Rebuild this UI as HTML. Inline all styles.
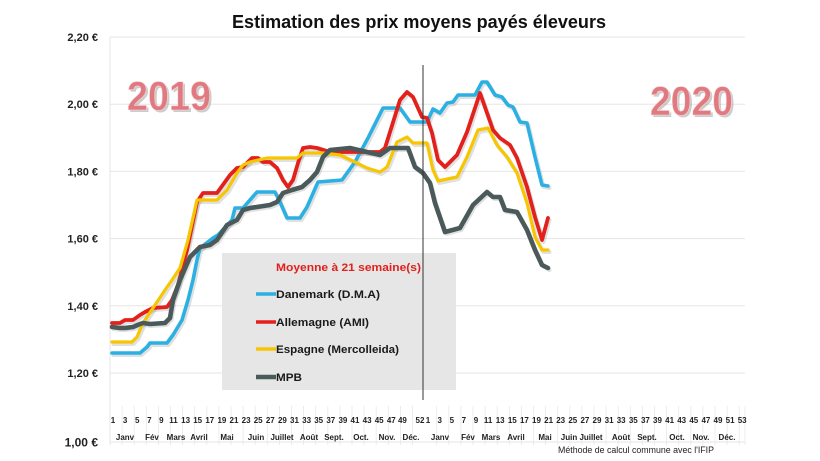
<!DOCTYPE html>
<html>
<head>
<meta charset="utf-8">
<style>
html,body{margin:0;padding:0;background:#fff;}
svg{display:block;}
text{font-family:"Liberation Sans",sans-serif;}
</style>
</head>
<body>
<svg width="820" height="461" viewBox="0 0 820 461" xmlns="http://www.w3.org/2000/svg">
<rect width="820" height="461" fill="#fff"/>

<!-- Title -->
<text x="419" y="28" text-anchor="middle" font-size="18" font-weight="bold" fill="#111" textLength="374" lengthAdjust="spacingAndGlyphs">Estimation des prix moyens payés éleveurs</text>

<!-- gridlines -->
<g stroke="#e6e6e6" stroke-width="1">
<line x1="110" y1="37" x2="745" y2="37"/>
<line x1="110" y1="104.2" x2="745" y2="104.2"/>
<line x1="110" y1="171.4" x2="745" y2="171.4"/>
<line x1="110" y1="238.6" x2="745" y2="238.6"/>
<line x1="110" y1="305.8" x2="745" y2="305.8"/>
<line x1="110" y1="373" x2="745" y2="373"/>
<line x1="110" y1="442" x2="745" y2="442"/>
<line x1="110" y1="37" x2="110" y2="445"/>
</g>

<!-- axis separators -->
<g stroke="#e8e8e8" stroke-width="0.8">
<line x1="122.1" y1="406" x2="122.1" y2="445"/><line x1="134.2" y1="406" x2="134.2" y2="445"/><line x1="146.3" y1="406" x2="146.3" y2="445"/><line x1="158.4" y1="406" x2="158.4" y2="445"/><line x1="170.5" y1="406" x2="170.5" y2="445"/><line x1="182.6" y1="406" x2="182.6" y2="445"/><line x1="194.7" y1="406" x2="194.7" y2="445"/><line x1="206.8" y1="406" x2="206.8" y2="445"/><line x1="218.9" y1="406" x2="218.9" y2="445"/><line x1="231" y1="406" x2="231" y2="445"/><line x1="243.1" y1="406" x2="243.1" y2="445"/><line x1="255.2" y1="406" x2="255.2" y2="445"/><line x1="267.3" y1="406" x2="267.3" y2="445"/><line x1="279.4" y1="406" x2="279.4" y2="445"/><line x1="291.5" y1="406" x2="291.5" y2="445"/><line x1="303.6" y1="406" x2="303.6" y2="445"/><line x1="315.7" y1="406" x2="315.7" y2="445"/><line x1="327.8" y1="406" x2="327.8" y2="445"/><line x1="339.9" y1="406" x2="339.9" y2="445"/><line x1="352" y1="406" x2="352" y2="445"/><line x1="364.1" y1="406" x2="364.1" y2="445"/><line x1="376.2" y1="406" x2="376.2" y2="445"/><line x1="388.3" y1="406" x2="388.3" y2="445"/><line x1="400.4" y1="406" x2="400.4" y2="445"/><line x1="412.5" y1="406" x2="412.5" y2="445"/><line x1="436.7" y1="406" x2="436.7" y2="445"/><line x1="448.8" y1="406" x2="448.8" y2="445"/><line x1="460.9" y1="406" x2="460.9" y2="445"/><line x1="473" y1="406" x2="473" y2="445"/><line x1="485.1" y1="406" x2="485.1" y2="445"/><line x1="497.2" y1="406" x2="497.2" y2="445"/><line x1="509.3" y1="406" x2="509.3" y2="445"/><line x1="521.4" y1="406" x2="521.4" y2="445"/><line x1="533.5" y1="406" x2="533.5" y2="445"/><line x1="545.6" y1="406" x2="545.6" y2="445"/><line x1="557.7" y1="406" x2="557.7" y2="445"/><line x1="569.8" y1="406" x2="569.8" y2="445"/><line x1="581.9" y1="406" x2="581.9" y2="445"/><line x1="594" y1="406" x2="594" y2="445"/><line x1="606.1" y1="406" x2="606.1" y2="445"/><line x1="618.2" y1="406" x2="618.2" y2="445"/><line x1="630.3" y1="406" x2="630.3" y2="445"/><line x1="642.4" y1="406" x2="642.4" y2="445"/><line x1="654.5" y1="406" x2="654.5" y2="445"/><line x1="666.6" y1="406" x2="666.6" y2="445"/><line x1="678.7" y1="406" x2="678.7" y2="445"/><line x1="690.8" y1="406" x2="690.8" y2="445"/><line x1="702.9" y1="406" x2="702.9" y2="445"/><line x1="715" y1="406" x2="715" y2="445"/><line x1="727.1" y1="406" x2="727.1" y2="445"/><line x1="739.2" y1="406" x2="739.2" y2="445"/><line x1="745" y1="406" x2="745" y2="445"/>
</g>

<!-- Y labels -->
<g font-size="11" font-weight="bold" fill="#222" text-anchor="end">
<text x="98" y="41">2,20 €</text>
<text x="98" y="108">2,00 €</text>
<text x="98" y="175.5">1,80 €</text>
<text x="98" y="242.5">1,60 €</text>
<text x="98" y="310">1,40 €</text>
<text x="98" y="377">1,20 €</text>
<text x="98" y="446.5" font-size="12">1,00 €</text>
</g>

<!-- legend box -->
<rect x="222" y="253" width="234" height="137" fill="#e7e6e6"/>
<text x="276" y="271" font-size="11" font-weight="bold" fill="#e0201c" textLength="145" lengthAdjust="spacingAndGlyphs">Moyenne à  21 semaine(s)</text>
<g stroke-width="3.5">
<line x1="256" y1="294" x2="276" y2="294" stroke="#2bb0e3"/>
<line x1="256" y1="322" x2="276" y2="322" stroke="#e3201b"/>
<line x1="256" y1="349" x2="276" y2="349" stroke="#f7c600"/>
<line x1="256" y1="377" x2="276" y2="377" stroke="#4a5a5a" stroke-width="4.5"/>
</g>
<g font-size="11" font-weight="bold" fill="#1a1a1a">
<text x="276" y="298" textLength="104" lengthAdjust="spacingAndGlyphs">Danemark (D.M.A)</text>
<text x="276" y="326" textLength="93" lengthAdjust="spacingAndGlyphs">Allemagne (AMI)</text>
<text x="276" y="353" textLength="123" lengthAdjust="spacingAndGlyphs">Espagne (Mercolleida)</text>
<text x="276" y="381" textLength="26" lengthAdjust="spacingAndGlyphs">MPB</text>
</g>

<!-- year labels -->
<g font-size="41" font-weight="bold">
<text x="129" y="112" fill="#9a9a9a" opacity="0.5" textLength="84" lengthAdjust="spacingAndGlyphs">2019</text>
<text x="127" y="110" fill="#e07a80" stroke="#f6d6d8" stroke-width="0.6" textLength="84" lengthAdjust="spacingAndGlyphs">2019</text>
<text x="652" y="117" fill="#9a9a9a" opacity="0.5" textLength="83" lengthAdjust="spacingAndGlyphs">2020</text>
<text x="650" y="115" fill="#e07a80" stroke="#f6d6d8" stroke-width="0.6" textLength="83" lengthAdjust="spacingAndGlyphs">2020</text>
</g>

<!-- series shadows -->
<g fill="none" stroke="#000" stroke-opacity="0.12" stroke-width="4" stroke-linejoin="round" stroke-linecap="round" transform="translate(1.5,2)">
<polyline points="112,353 140,353 147,347 150,343 167,343 173,335 182,320 188,300 193,280 197,260 200,248 213,238 218,235 232,220 235,208 243,208 257,192 275,192 280,202 287,218 300,218 307,207 318,182 342,180 355,162 368,138 383,108 400,108 410,122 427,122 433,109 440,113 447,103 453,102 458,95 475,95 482,82 487,82 495,95 502,97 508,105 513,107 520,122 527,123 535,157 542,185 548,186"/>
<polyline points="112,323 120,323 125,320 133,320 140,315 145,312 153,308 167,307 172,300 178,285 187,250 197,202 203,193 217,193 230,175 237,168 243,167 252,158 258,158 263,162 270,162 277,168 283,180 288,187 293,180 298,163 303,148 310,147 317,148 330,152 350,152 380,152 385,148 400,100 407,92 413,97 422,117 427,118 432,133 438,160 445,167 452,160 457,155 467,132 480,93 493,130 500,138 510,145 517,158 527,187 535,217 542,240 548,218"/>
<polyline points="112,342 132,342 137,337 143,323 153,308 165,290 172,280 180,268 188,240 197,200 217,200 227,190 237,173 243,165 250,162 267,158 297,158 303,153 323,153 340,155 357,163 367,168 380,172 387,167 397,142 407,137 413,143 427,143 433,170 438,181 457,177 467,157 478,130 488,128 497,145 507,157 517,173 527,203 535,237 542,250 548,250"/>
<polyline points="112,327 120,328 125,328 133,327 140,324 143,323 150,324 165,323 170,318 173,300 180,280 190,257 200,247 210,245 217,240 227,225 237,220 243,210 250,208 270,205 277,202 283,193 292,190 302,187 310,180 317,172 323,157 330,150 350,148 367,152 380,155 390,148 408,148 415,167 423,173 430,183 435,203 445,232 460,228 473,205 487,192 493,197 500,197 505,210 517,212 527,230 535,250 542,265 548,268"/>
</g>

<!-- series -->
<g fill="none" stroke-linejoin="round" stroke-linecap="round">
<polyline stroke="#2bb0e3" stroke-width="3.6" points="112,353 140,353 147,347 150,343 167,343 173,335 182,320 188,300 193,280 197,260 200,248 213,238 218,235 232,220 235,208 243,208 257,192 275,192 280,202 287,218 300,218 307,207 318,182 342,180 355,162 368,138 383,108 400,108 410,122 427,122 433,109 440,113 447,103 453,102 458,95 475,95 482,82 487,82 495,95 502,97 508,105 513,107 520,122 527,123 535,157 542,185 548,186"/>
<polyline stroke="#e3201b" stroke-width="3.8" points="112,323 120,323 125,320 133,320 140,315 145,312 153,308 167,307 172,300 178,285 187,250 197,202 203,193 217,193 230,175 237,168 243,167 252,158 258,158 263,162 270,162 277,168 283,180 288,187 293,180 298,163 303,148 310,147 317,148 330,152 350,152 380,152 385,148 400,100 407,92 413,97 422,117 427,118 432,133 438,160 445,167 452,160 457,155 467,132 480,93 493,130 500,138 510,145 517,158 527,187 535,217 542,240 548,218"/>
<polyline stroke="#f7c600" stroke-width="3.2" points="112,342 132,342 137,337 143,323 153,308 165,290 172,280 180,268 188,240 197,200 217,200 227,190 237,173 243,165 250,162 267,158 297,158 303,153 323,153 340,155 357,163 367,168 380,172 387,167 397,142 407,137 413,143 427,143 433,170 438,181 457,177 467,157 478,130 488,128 497,145 507,157 517,173 527,203 535,237 542,250 548,250"/>
<polyline stroke="#4a5a5a" stroke-width="4.6" points="112,327 120,328 125,328 133,327 140,324 143,323 150,324 165,323 170,318 173,300 180,280 190,257 200,247 210,245 217,240 227,225 237,220 243,210 250,208 270,205 277,202 283,193 292,190 302,187 310,180 317,172 323,157 330,150 350,148 367,152 380,155 390,148 408,148 415,167 423,173 430,183 435,203 445,232 460,228 473,205 487,192 493,197 500,197 505,210 517,212 527,230 535,250 542,265 548,268"/>
</g>

<!-- separator year line -->
<line x1="423" y1="65" x2="423" y2="400" stroke="#333" stroke-width="1"/>

<!-- week numbers -->
<g font-size="8" font-weight="bold" fill="#222" text-anchor="middle">
<text x="113" y="423">1</text><text x="125.1" y="423">3</text><text x="137.2" y="423">5</text><text x="149.3" y="423">7</text><text x="161.4" y="423">9</text><text x="173.5" y="423">11</text><text x="185.6" y="423">13</text><text x="197.7" y="423">15</text><text x="209.8" y="423">17</text><text x="221.9" y="423">19</text><text x="234" y="423">21</text><text x="246.1" y="423">23</text><text x="258.2" y="423">25</text><text x="270.3" y="423">27</text><text x="282.4" y="423">29</text><text x="294.5" y="423">31</text><text x="306.6" y="423">33</text><text x="318.7" y="423">35</text><text x="330.8" y="423">37</text><text x="342.9" y="423">39</text><text x="355" y="423">41</text><text x="367.1" y="423">43</text><text x="379.2" y="423">45</text><text x="391.3" y="423">47</text><text x="402.4" y="423">49</text>
<text x="420" y="423">52</text><text x="428" y="423">1</text>
<text x="439.7" y="423">3</text><text x="451.8" y="423">5</text><text x="463.9" y="423">7</text><text x="476" y="423">9</text><text x="488.1" y="423">11</text><text x="500.2" y="423">13</text><text x="512.3" y="423">15</text><text x="524.4" y="423">17</text><text x="536.5" y="423">19</text><text x="548.6" y="423">21</text><text x="560.7" y="423">23</text><text x="572.8" y="423">25</text><text x="584.9" y="423">27</text><text x="597" y="423">29</text><text x="609.1" y="423">31</text><text x="621.2" y="423">33</text><text x="633.3" y="423">35</text><text x="645.4" y="423">37</text><text x="657.5" y="423">39</text><text x="669.6" y="423">41</text><text x="681.7" y="423">43</text><text x="693.8" y="423">45</text><text x="705.9" y="423">47</text><text x="718" y="423">49</text><text x="730.1" y="423">51</text><text x="742.2" y="423">53</text>
</g>

<!-- months -->
<g font-size="8" font-weight="bold" fill="#222" text-anchor="middle">
<text x="125" y="440">Janv</text><text x="152" y="440">Fév</text><text x="176" y="440">Mars</text><text x="199" y="440">Avril</text><text x="227" y="440">Mai</text><text x="256" y="440">Juin</text><text x="282" y="440">Juillet</text><text x="309" y="440">Août</text><text x="334" y="440">Sept.</text><text x="361" y="440">Oct.</text><text x="387" y="440">Nov.</text><text x="411" y="440">Déc.</text>
<text x="440" y="440">Janv</text><text x="468" y="440">Fév</text><text x="491" y="440">Mars</text><text x="516" y="440">Avril</text><text x="545" y="440">Mai</text><text x="569" y="440">Juin</text><text x="591" y="440">Juillet</text><text x="621" y="440">Août</text><text x="647" y="440">Sept.</text><text x="677" y="440">Oct.</text><text x="701" y="440">Nov.</text><text x="727" y="440">Déc.</text>
</g>

<text x="558" y="453" font-size="9" fill="#222" textLength="156" lengthAdjust="spacingAndGlyphs">Méthode de calcul commune avec l'IFIP</text>
</svg>
</body>
</html>
